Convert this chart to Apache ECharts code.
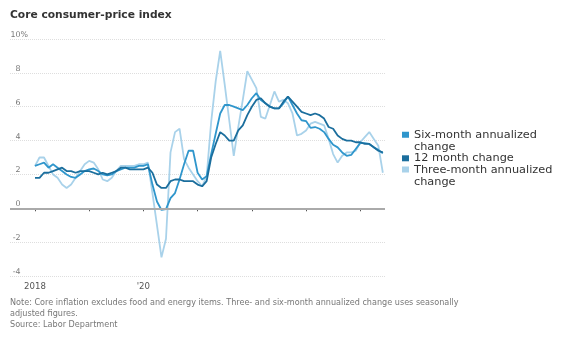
<!DOCTYPE html>
<html>
<head>
<meta charset="utf-8">
<script src="https://cdn.jsdelivr.net/npm/echarts@6/dist/echarts.min.js"></script>
<style>
html,body{margin:0;padding:0;background:#fff;}
#chart{width:562px;height:340px;}
</style>
</head>
<body>
<div id="chart"></div>
<script>
// Monthly data, Jan 2018 .. Jun 2024 (index 0 = Jan 2018)
const sixMonth = [
  2.5, 2.6, 2.7, 2.4, 2.6, 2.4, 2.2, 2.0, 1.85, 1.8, 2.0, 2.2,
  2.3, 2.35, 2.2, 2.0, 1.95, 2.0, 2.2, 2.3, 2.4, 2.4, 2.4, 2.5,
  2.5, 2.6, 1.4, 0.4, -0.1, -0.05, 0.6, 0.9, 1.7, 2.6, 3.4, 3.4,
  2.1, 1.7, 1.9, 3.2, 4.4, 5.6, 6.1, 6.1, 6.0, 5.9, 5.8, 6.1,
  6.5, 6.8, 6.4, 6.2, 6.0, 5.9, 5.9, 6.2, 6.6, 6.1, 5.6, 5.2,
  5.15, 4.75, 4.8, 4.7, 4.5, 4.1, 3.75, 3.6, 3.3, 3.1, 3.15, 3.5,
  3.85, 3.85, 3.8, 3.6, 3.45, 3.25
];
const twelveMonth = [
  1.8, 1.8, 2.1, 2.1, 2.2, 2.3, 2.4, 2.2, 2.2, 2.1, 2.2, 2.2,
  2.2, 2.1, 2.0, 2.1, 2.0, 2.1, 2.2, 2.4, 2.4, 2.3, 2.3, 2.3,
  2.3, 2.4, 2.1, 1.4, 1.2, 1.2, 1.6, 1.7, 1.7, 1.6, 1.6, 1.6,
  1.4, 1.3, 1.6, 3.0, 3.8, 4.5, 4.3, 4.0, 4.0, 4.6, 4.9, 5.5,
  6.0, 6.4, 6.5, 6.2, 6.0, 5.9, 5.9, 6.3, 6.6, 6.3, 6.0, 5.7,
  5.6, 5.5, 5.6, 5.5, 5.3, 4.8, 4.7, 4.3, 4.1, 4.0, 4.0, 3.9,
  3.9, 3.8, 3.8, 3.6, 3.4, 3.3
];
const threeMonth = [
  2.5, 3.0, 3.0, 2.5, 2.0, 1.8, 1.4, 1.2, 1.4, 1.8, 2.2, 2.6,
  2.8, 2.7, 2.3, 1.7, 1.6, 1.8, 2.2, 2.5, 2.5, 2.5, 2.5, 2.6,
  2.6, 2.7, 0.9, -1.0, -2.9, -1.8, 3.3, 4.5, 4.7, 2.9, 2.4, 2.0,
  1.6, 1.3, 1.9, 5.1, 7.5, 9.3, 7.3, 5.2, 3.1, 4.8, 6.4, 8.1,
  7.6, 7.1, 5.4, 5.3, 6.1, 6.9, 6.3, 6.4, 6.2, 5.6, 4.3, 4.4,
  4.6, 5.0, 5.1, 5.0, 4.9, 4.1, 3.2, 2.7, 3.1, 3.3, 3.3, 3.4,
  3.9, 4.2, 4.5, 4.1, 3.7, 2.1
];
const seriesNames = ['Six-month annualized change', '12 month change', 'Three-month annualized change'];
const legendLabels = ['Six-month annualized\nchange', '12 month change', 'Three-month annualized\nchange'];
const yTicks = [-4, -2, 0, 2, 4, 6, 8, 10];
const xTickMonths = [0, 12, 24, 36, 48, 60, 72];
const xTickLabels = ['2018', '', "'20", '', '', '', ''];

const colors = { six: '#2f96cc', twelve: '#1b6e9d', three: '#a9d2ea' };

function pairs(arr) { return arr.map((v, i) => [i, v]); }

const chart = echarts.init(document.getElementById('chart'), null, { renderer: 'canvas' });
const font = '"DejaVu Sans", sans-serif';
const twoLineIcon = 'path://M0,0L0.01,0L0.01,0.01L0,0.01Z M0,3L7,3L7,9L0,9Z M0,23.99L0.01,23.99L0.01,24L0,24Z';
const legendText = { fontFamily: font, fontSize: 11.3, lineHeight: 12, color: '#333' };

const option = {
  animation: false,
  backgroundColor: '#fff',
  title: [
    { text: 'Core consumer-price index', left: 10, top: 10, padding: 0,
      textStyle: { fontFamily: font, fontSize: 10.7, fontWeight: 'bold', color: '#333' } },
    { text: 'Note: Core inflation excludes food and energy items. Three- and six-month annualized change uses seasonally\nadjusted figures.\nSource: Labor Department',
      left: 10, top: 297.5, padding: 0,
      textStyle: { fontFamily: font, fontSize: 8.1, fontWeight: 'normal', color: '#777', lineHeight: 11 } }
  ],
  legend: [
    { data: [seriesNames[0]], left: 402, top: 128.7, padding: 0, orient: 'vertical',
      itemWidth: 7, itemHeight: 24, icon: twoLineIcon, itemGap: 0, itemStyle: { borderWidth: 0 },
      formatter: () => legendLabels[0], textStyle: legendText },
    { data: [seriesNames[1]], left: 402, top: 152.3, padding: 0, orient: 'vertical',
      itemWidth: 7, itemHeight: 6, icon: 'rect', itemGap: 0, itemStyle: { borderWidth: 0 },
      formatter: () => legendLabels[1], textStyle: legendText },
    { data: [seriesNames[2]], left: 402, top: 163.6, padding: 0, orient: 'vertical',
      itemWidth: 7, itemHeight: 24, icon: twoLineIcon, itemGap: 0, itemStyle: { borderWidth: 0 },
      formatter: () => legendLabels[2], textStyle: legendText }
  ],
  grid: { left: 10, right: 177, top: 39, bottom: 64, containLabel: false },
  xAxis: {
    type: 'value', min: -5.53, max: 77.48,
    axisLine: { show: false },
    splitLine: { show: false },
    axisTick: { show: true, length: 3, customValues: xTickMonths, lineStyle: { color: '#555', width: 1 } },
    axisLabel: { show: true, customValues: xTickMonths, margin: 6,
      formatter: (v) => xTickLabels[xTickMonths.indexOf(v)] || '',
      fontFamily: font, fontSize: 8.6, color: '#555' }
  },
  yAxis: {
    type: 'value', min: yTicks[0], max: yTicks[yTicks.length - 1], interval: 2,
    axisLine: { show: false }, axisTick: { show: false },
    splitLine: { show: true, lineStyle: { color: '#dedede', type: 'dotted', width: 1 } },
    axisLabel: {
      inside: false, margin: -18, align: 'right', verticalAlign: 'bottom',
      fontFamily: font, fontSize: 7.9, color: '#777',
      formatter: (v) => v === 10 ? '10%' : '{n|' + v + '}',
      rich: { n: { fontFamily: font, fontSize: 7.9, color: '#777', padding: [0, 7.5, 0, 0] } }
    }
  },
  series: [
    { name: seriesNames[2], type: 'line', data: pairs(threeMonth), showSymbol: false, symbol: 'none',
      z: 2, lineStyle: { color: colors.three, width: 1.8 }, itemStyle: { color: colors.three },
      markLine: { silent: true, symbol: 'none', label: { show: false },
        lineStyle: { color: '#aaaaaa', width: 2, type: 'solid' }, data: [{ yAxis: 0 }] } },
    { name: seriesNames[0], type: 'line', data: pairs(sixMonth), showSymbol: false, symbol: 'none',
      z: 3, lineStyle: { color: colors.six, width: 1.8 }, itemStyle: { color: colors.six } },
    { name: seriesNames[1], type: 'line', data: pairs(twelveMonth), showSymbol: false, symbol: 'none',
      z: 4, lineStyle: { color: colors.twelve, width: 1.8 }, itemStyle: { color: colors.twelve } }
  ]
};
chart.setOption(option);
</script>
</body>
</html>
